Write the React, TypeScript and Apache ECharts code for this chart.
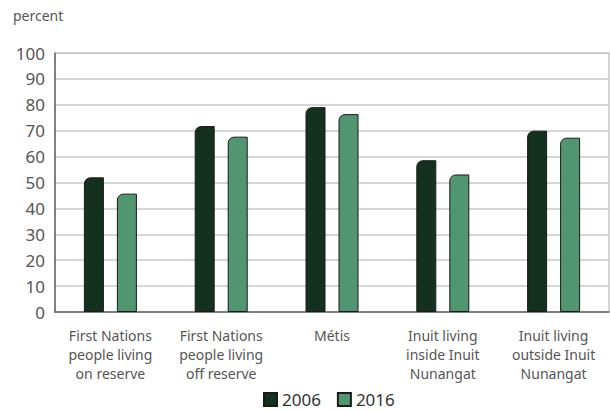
import React, { useEffect, useRef } from "react";
import * as echarts from "echarts";

const categories = [
  "First Nations\npeople living\non reserve",
  "First Nations\npeople living\noff reserve",
  "Métis",
  "Inuit living\ninside Inuit\nNunangat",
  "Inuit living\noutside Inuit\nNunangat",
];
const values2006 = [52.0, 71.8, 79.1, 58.6, 70.0];
const values2016 = [45.7, 67.7, 76.4, 53.1, 67.3];
const seriesNames = ["2006", "2016"];
const yTicks = { min: 0, max: 100, interval: 10 };

const FONT = "'Noto Sans', sans-serif";

export default function App() {
  const ref = useRef<HTMLDivElement>(null);
  useEffect(() => {
    document.body.style.margin = "0";
    const chart = echarts.init(ref.current!, null, { renderer: "svg" });
    chart.setOption({
      animation: false,
      backgroundColor: "#ffffff",
      textStyle: { fontFamily: FONT },
      graphic: [
        {
          type: "text",
          left: 13,
          top: 8,
          style: { text: "percent", fill: "#555555", font: `14px ${FONT}` },
        },
      ],
      grid: {
        left: 55,
        right: 1,
        top: 53,
        bottom: 99,
        show: true,
        borderColor: "#aaaaaa",
        borderWidth: 1,
      },
      legend: {
        bottom: -2,
        left: 258,
        itemWidth: 13,
        itemHeight: 13,
        itemGap: 16,
        icon: "rect",
        textStyle: { fontSize: 17, color: "#333333", fontFamily: FONT },
        data: seriesNames,
      },
      xAxis: {
        type: "category",
        data: categories,
        axisLine: { lineStyle: { color: "#666666", width: 1.5 } },
        axisTick: { show: false },
        axisLabel: {
          color: "#555555",
          fontSize: 14,
          lineHeight: 19,
          margin: 14,
          interval: 0,
          fontFamily: FONT,
        },
      },
      yAxis: {
        type: "value",
        min: yTicks.min,
        max: yTicks.max,
        interval: yTicks.interval,
        axisLine: { show: true, lineStyle: { color: "#666666", width: 1.5 } },
        axisTick: { show: false },
        axisLabel: { color: "#555555", fontSize: 17, margin: 10, fontFamily: FONT },
        splitLine: { lineStyle: { color: "#c8c8c8", width: 1.5 } },
      },
      series: [
        {
          name: seriesNames[0],
          type: "bar",
          data: values2006,
          barWidth: 20,
          barGap: "65%",
          itemStyle: {
            color: "#14301e",
            borderColor: "#1a1a1a",
            borderWidth: 1,
            borderRadius: [6, 0, 0, 0],
          },
        },
        {
          name: seriesNames[1],
          type: "bar",
          data: values2016,
          barWidth: 20,
          barGap: "65%",
          itemStyle: {
            color: "#519670",
            borderColor: "#1a1a1a",
            borderWidth: 1,
            borderRadius: [6, 0, 0, 0],
          },
        },
      ],
    });
    return () => chart.dispose();
  }, []);
  return <div ref={ref} style={{ width: 610, height: 411 }} />;
}
